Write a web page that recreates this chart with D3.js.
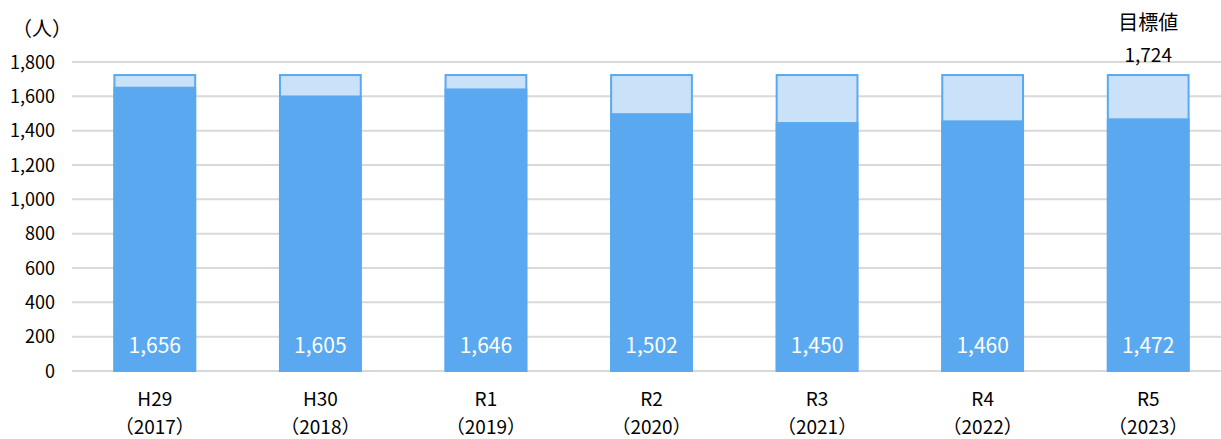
<!DOCTYPE html>
<html lang="ja"><head><meta charset="utf-8">
<script src="https://cdn.jsdelivr.net/npm/d3@7"></script>
<style>body{margin:0;background:#fff}svg{display:block;font-family:"Noto Sans CJK JP","Noto Sans",sans-serif}</style>
</head><body><svg id="c" width="1221" height="439"></svg>
<script>
const categories = ["H29","H30","R1","R2","R3","R4","R5"];
const years = ["（2017）","（2018）","（2019）","（2020）","（2021）","（2022）","（2023）"];
const actual = [1656,1605,1646,1502,1450,1460,1472];
const target = [1724,1724,1724,1724,1724,1724,1724];
const yTicks = [0,200,400,600,800,1000,1200,1400,1600,1800];

const svg = d3.select("#c");
const x = d3.scaleBand().domain(categories).range([72,1231]).paddingInner(0.5).paddingOuter(0.25);
const y = d3.scaleLinear().domain([0,1800]).range([371,62]);
const fmt = d3.format(",");

svg.append("g").selectAll("line").data(yTicks).join("line")
  .attr("x1",72).attr("x2",1221).attr("y1",d=>y(d)).attr("y2",d=>y(d))
  .attr("stroke","#d9d9d9").attr("stroke-width",2);
svg.append("g").selectAll("text").data(yTicks).join("text")
  .attr("x",55).attr("y",d=>y(d)+6.5).attr("text-anchor","end")
  .attr("font-size",18).attr("fill","#000").text(d=>fmt(d));
svg.append("text").attr("x",12).attr("y",36).attr("font-size",20).text("（人）");

const bw = x.bandwidth();
svg.append("g").selectAll("rect").data(categories).join("rect")
  .attr("x",(d)=>x(d)+1).attr("width",bw-2)
  .attr("y",(d,i)=>y(target[i])).attr("height",(d,i)=>y(0)-y(target[i]))
  .attr("fill","#c9e2fa").attr("stroke","#5aa9f0").attr("stroke-width",2);
svg.append("g").selectAll("rect").data(categories).join("rect")
  .attr("x",d=>x(d)).attr("width",bw)
  .attr("y",(d,i)=>y(actual[i])).attr("height",(d,i)=>y(0)-y(actual[i]))
  .attr("fill","#5aa9f0");
svg.append("g").selectAll("text").data(categories).join("text")
  .attr("x",d=>x(d)+bw/2).attr("y",353).attr("text-anchor","middle")
  .attr("font-size",21).attr("fill","#fff").text((d,i)=>fmt(actual[i]));

svg.append("g").selectAll("text").data(categories).join("text")
  .attr("x",d=>x(d)+bw/2).attr("y",406).attr("text-anchor","middle")
  .attr("font-size",19).text(d=>d);
svg.append("g").selectAll("text").data(categories).join("text")
  .attr("x",d=>x(d)+bw/2).attr("y",434).attr("text-anchor","middle")
  .attr("font-size",19).text((d,i)=>years[i]);

const last = categories[categories.length-1];
svg.append("text").attr("x",x(last)+bw/2).attr("y",30).attr("text-anchor","middle")
  .attr("font-size",20).text("目標値");
svg.append("text").attr("x",x(last)+bw/2).attr("y",62).attr("text-anchor","middle")
  .attr("font-size",19).text(fmt(target[target.length-1]));
</script></body></html>
